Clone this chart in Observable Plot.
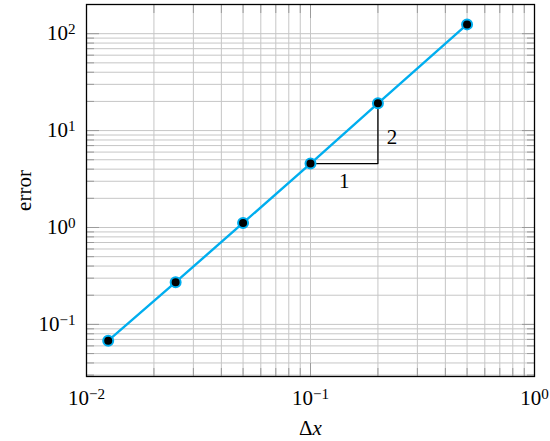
<!DOCTYPE html>
<html><head><meta charset="utf-8">
<script src="https://cdn.jsdelivr.net/npm/d3@7"></script>
<script src="https://cdn.jsdelivr.net/npm/@observablehq/plot@0.6"></script>
<style>
body{margin:0;background:#fff}
#chart svg text{font-family:'Liberation Serif','DejaVu Serif',serif !important;}
#chart svg g[aria-label$="tick label"] text,
#chart svg g[aria-label="text"] text,
#chart svg g[aria-label$="axis label"] text{font-size:21px !important;}
</style>
</head><body><div id="chart"></div>
<script>
// data
const stepSizes = [0.0125, 0.025, 0.05, 0.1, 0.2, 0.5];
const errors = [0.068, 0.273, 1.115, 4.57, 19.1, 124.7];
// slope triangle
const triX = [0.1, 0.2, 0.2];
const triY = [4.57, 4.57, 19.1];
const triLabels = ["1", "2"];
// ticks
const xMajor = [0.01, 0.1, 1];
const xMinor = [0.02,0.03,0.04,0.05,0.06,0.07,0.08,0.09,0.2,0.3,0.4,0.5,0.6,0.7,0.8,0.9];
const yMajor = [0.1, 1, 10, 100];
const yMinor = [0.03,0.04,0.05,0.06,0.07,0.08,0.09,0.2,0.3,0.4,0.5,0.6,0.7,0.8,0.9,2,3,4,5,6,7,8,9,20,30,40,50,60,70,80,90,200];

const data = stepSizes.map((x, i) => ({x, y: errors[i]}));
const tri = triX.map((x, i) => ({x, y: triY[i]}));

const FONT = "'Liberation Serif', 'DejaVu Serif', serif";
const gridColor = "#c6c6c6";
const tickColor = "#9a9a9a";
const blue = "#00aeef";
const noText = {fill: "none", label: null, stroke: tickColor};
const txt = {fontFamily: FONT, fontSize: 21};

const chart = Plot.plot({
  width: 550, height: 441,
  marginLeft: 86, marginRight: 16, marginTop: 4, marginBottom: 65,
  style: {fontFamily: FONT, fontSize: "21px", background: "#fff", color: "#000"},
  x: {type: "log", domain: [0.01, 1]},
  y: {type: "log", domain: [0.029, 200]},
  marks: [
    Plot.gridX([...xMajor, ...xMinor], {stroke: gridColor, strokeOpacity: 1, strokeWidth: 1}),
    Plot.gridY([...yMajor, ...yMinor], {stroke: gridColor, strokeOpacity: 1, strokeWidth: 1}),
    // inner ticks on all four sides
    Plot.axisX(xMajor, {anchor: "bottom", tickSize: 13, dy: -13, ...noText}),
    Plot.axisX(xMinor, {anchor: "bottom", tickSize: 8, dy: -8, ...noText}),
    Plot.axisX(xMajor, {anchor: "top", tickSize: 13, dy: 13, ...noText}),
    Plot.axisX(xMinor, {anchor: "top", tickSize: 8, dy: 8, ...noText}),
    Plot.axisY(yMajor, {anchor: "left", tickSize: 13, dx: 13, ...noText}),
    Plot.axisY(yMinor, {anchor: "left", tickSize: 8, dx: 8, ...noText}),
    Plot.axisY(yMajor, {anchor: "right", tickSize: 13, dx: -13, ...noText}),
    Plot.axisY(yMinor, {anchor: "right", tickSize: 8, dx: -8, ...noText}),
    // labels
    Plot.axisX(xMajor, {anchor: "bottom", tickSize: 0, tickPadding: 14, ...txt,
      tickFormat: d => "10^" + Math.round(Math.log10(d)),
      label: "Δx", labelAnchor: "center", labelArrow: "none", labelOffset: 58}),
    Plot.axisY(yMajor, {anchor: "left", tickSize: 0, tickPadding: 11, ...txt,
      tickFormat: d => "10^" + Math.round(Math.log10(d)),
      label: "error", labelAnchor: "center", labelArrow: "none", labelOffset: 70}),
    Plot.frame({stroke: "#000", strokeWidth: 1.3}),
    Plot.line(tri, {x: "x", y: "y", stroke: "#000", strokeWidth: 1.3}),
    Plot.text([triLabels[0]], {x: () => Math.sqrt(triX[0] * triX[1]), y: () => triY[0], text: d => d, dy: 18, ...txt}),
    Plot.text([triLabels[1]], {x: () => triX[1], y: () => Math.sqrt(triY[1] * triY[2]), text: d => d, dx: 14, dy: 4, ...txt}),
    Plot.line(data, {x: "x", y: "y", stroke: blue, strokeWidth: 2.4}),
    Plot.dot(data, {x: "x", y: "y", r: 5, fill: "#000", stroke: blue, strokeWidth: 2})
  ]
});

// superscripts
d3.select(chart).selectAll('g[aria-label="x-axis tick label"] text, g[aria-label="y-axis tick label"] text').each(function() {
  const t = this.textContent;
  const m = t.match(/^10\^(-?\d+)$/);
  if (!m) return;
  const sel = d3.select(this);
  sel.text("");
  sel.append("tspan").text("10");
  sel.append("tspan").attr("dy", "-0.42em").attr("font-size", "0.72em").text(m[1].replace("-", "−"));
});
d3.select(chart).selectAll('g[aria-label="x-axis label"] text').each(function() {
  const sel = d3.select(this);
  sel.text("");
  sel.append("tspan").text("Δ");
  sel.append("tspan").attr("font-style", "italic").text("x");
});
document.getElementById("chart").appendChild(chart);
</script>
</body></html>
